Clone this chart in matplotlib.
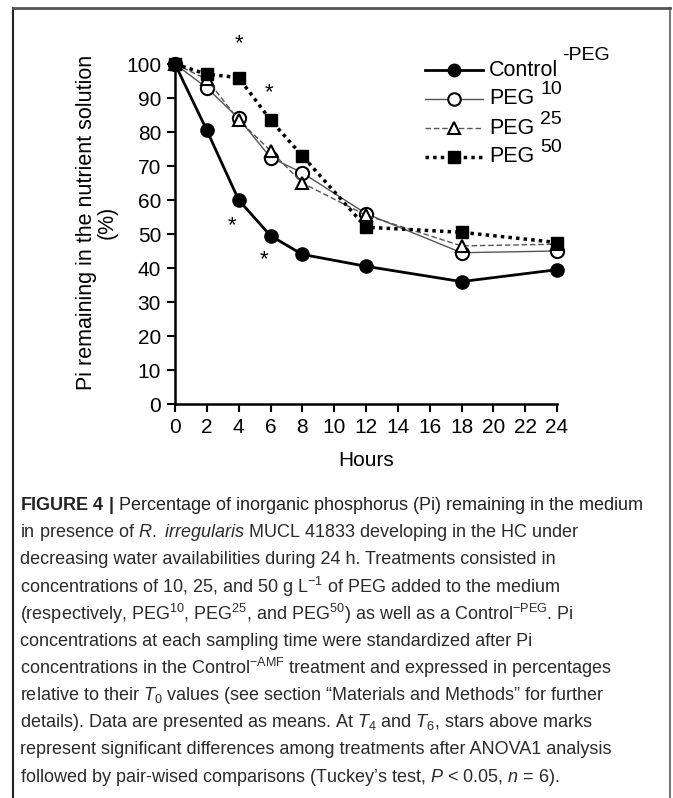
import matplotlib
matplotlib.use("Agg")
import matplotlib.pyplot as plt
from matplotlib.lines import Line2D

plt.rcParams["font.family"] = ["Liberation Sans", "DejaVu Sans"]
plt.rcParams["mathtext.fontset"] = "custom"
plt.rcParams["mathtext.rm"] = "Liberation Sans"
plt.rcParams["mathtext.it"] = "Liberation Sans:italic"
plt.rcParams["mathtext.bf"] = "Liberation Sans:bold"

hours = [0, 2, 4, 6, 8, 12, 18, 24]
control = [100, 80.5, 60, 49.5, 44, 40.5, 36, 39.5]
peg10 = [100, 93, 84, 72.5, 68, 56, 44.5, 45]
peg25 = [100, 95.5, 83.5, 74.5, 65, 55.5, 46.5, 47]
peg50 = [100, 97, 96, 83.5, 73, 52, 50.5, 47.5]

# significance stars (hours, %)
star_x = [4, 5.9, 3.6, 5.6]
star_y = [106, 91.5, 52.5, 42.5]

xticks = list(range(0, 25, 2))
yticks = list(range(0, 101, 10))

legend_names = ["Control", "PEG", "PEG", "PEG"]
legend_sups = ["-PEG", "10", "25", "50"]

caption_lines = [
    r"$\bf{FIGURE\ 4\ |}$ Percentage of inorganic phosphorus (Pi) remaining in the medium",
    r"in presence of $\it{R.\ irregularis}$ MUCL 41833 developing in the HC under",
    r"decreasing water availabilities during 24 h. Treatments consisted in",
    r"concentrations of 10, 25, and 50 g L$^{-1}$ of PEG added to the medium",
    r"(respectively, PEG$^{10}$, PEG$^{25}$, and PEG$^{50}$) as well as a Control$^{-\mathrm{PEG}}$. Pi",
    r"concentrations at each sampling time were standardized after Pi",
    r"concentrations in the Control$^{-\mathrm{AMF}}$ treatment and expressed in percentages",
    r"relative to their $\it{T}_0$ values (see section “Materials and Methods” for further",
    r"details). Data are presented as means. At $\it{T}_4$ and $\it{T}_6$, stars above marks",
    r"represent significant differences among treatments after ANOVA1 analysis",
    r"followed by pair-wised comparisons (Tuckey’s test, $\it{P}$ < 0.05, $\it{n}$ = 6).",
]

W, H = 673, 798
fig = plt.figure(figsize=(W / 100, H / 100), dpi=100)
ax = fig.add_axes([175 / W, 1 - 404 / H, (557 - 175) / W, (404 - 64) / H])

styles = [
    dict(color="black", lw=2, marker="o", ms=9.5, mfc="black", mec="black"),
    dict(color="#555555", lw=1, marker="o", ms=9.5, mfc="white", mec="black", mew=1.5),
    dict(color="#555555", lw=1, ls=(0, (4, 2)), marker="^", ms=8.5, mfc="white",
         mec="black", mew=1.5),
    dict(color="black", lw=2.5, ls=(0, (1, 1.2)), marker="s", ms=9, mfc="black", mec="black"),
]
for i, (ys, st) in enumerate(zip([control, peg10, peg25, peg50], styles)):
    ax.plot(hours, ys, clip_on=False, zorder=3 + i, **st)

for sx, sy in zip(star_x, star_y):
    ax.text(sx, sy, "*", ha="center", va="center", fontsize=16)

ax.set_xlim(0, 24)
ax.set_ylim(0, 100)
ax.set_xticks(xticks)
ax.set_yticks(yticks)
ax.tick_params(labelsize=15, direction="out", length=6, width=1.5, color="black", pad=4)
for side in ("top", "right"):
    ax.spines[side].set_visible(False)
for side in ("left", "bottom"):
    ax.spines[side].set_linewidth(1.8)
ax.set_xlabel("Hours", fontsize=15, labelpad=10)
ax.set_ylabel("Pi remaining in the nutrient solution\n(%)", fontsize=15.5, linespacing=1.0)
ax.yaxis.set_label_coords(-0.15, 0.535)

# legend drawn by hand so the superscripts sit like the original
x0, x1 = 425 / W, 483 / W
fig.canvas.draw()
for i, (st, name, sup) in enumerate(zip(styles, legend_names, legend_sups)):
    yy = 1 - (70 + 29 * i) / H
    fig.add_artist(Line2D([x0, x1], [yy, yy], color=st["color"], lw=st["lw"],
                          ls=st.get("ls", "-")))
    fig.add_artist(Line2D([(x0 + x1) / 2], [yy], marker=st["marker"], ms=st["ms"] - 0.5,
                          mfc=st["mfc"], mec=st["mec"], mew=st.get("mew", 1), ls="none"))
    t = fig.text(489 / W, yy, name, fontsize=15.5, va="center", ha="left")
    bb = t.get_window_extent(renderer=fig.canvas.get_renderer())
    gap, rise = (4, 15) if i == 0 else (6, 9)
    fig.text((bb.x1 + gap) / W, yy + rise / H, sup, fontsize=14, va="center", ha="left")

# caption
fig.text(20 / W, 1 - 505 / H, caption_lines[0], fontsize=13, va="center", ha="left",
         color="#222222")
for i, line in enumerate(caption_lines[1:], start=1):
    fig.text(20 / W, 1 - (505 + 27.2 * i) / H, line, fontsize=13, va="center", ha="left",
             color="#2a2a2a")

# page frame
fig.add_artist(Line2D([13 / W, 13 / W], [0, 1 - 8 / H], color="#222222", lw=1.5))
fig.add_artist(Line2D([670 / W, 670 / W], [0, 1 - 8 / H], color="#777777", lw=1.5))
fig.add_artist(Line2D([13 / W, 670 / W], [1 - 8 / H, 1 - 8 / H], color="#555555", lw=2))

fig.savefig("out.png", dpi=100)
